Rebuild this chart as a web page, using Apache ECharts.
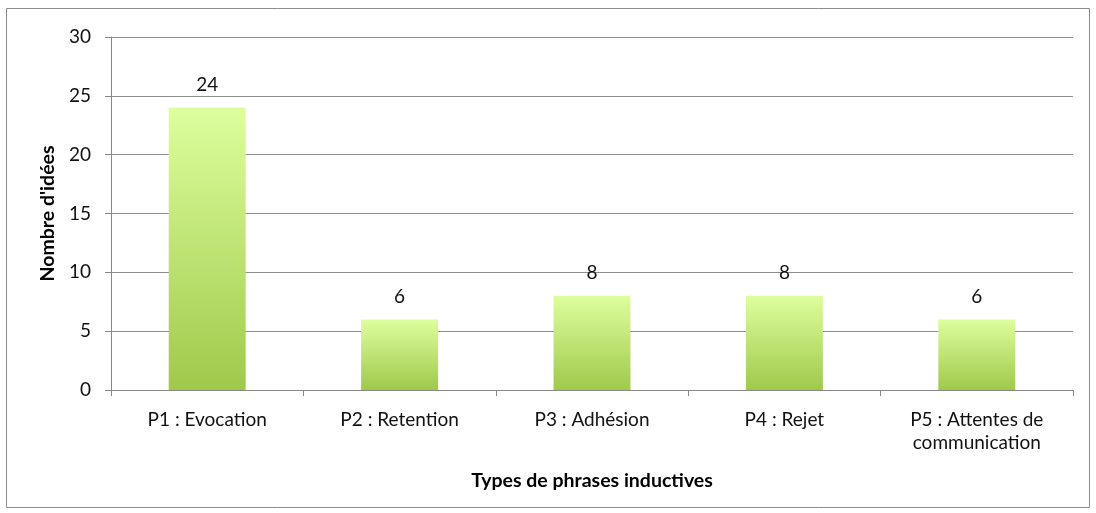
<!DOCTYPE html>
<html><head><meta charset="utf-8">
<script src="https://cdn.jsdelivr.net/npm/echarts@6/dist/echarts.min.js"></script>
<style>html,body{margin:0;padding:0;background:#fff}#c{width:1096px;height:513px}</style>
</head><body><div id="c"></div>
<script>
const categories = ["P1 : Evocation", "P2 : Retention", "P3 : Adhésion", "P4 : Rejet", "P5 : Attentes de\ncommunication"];
const values = [24, 6, 8, 8, 6];
const yTitle = "Nombre d'idées";
const xTitle = "Types de phrases inductives";
const FONT = "Lato, 'Open Sans', sans-serif";
const chart = echarts.init(document.getElementById('c'));
chart.setOption({
  animation: false,
  graphic: [{type:'rect', shape:{x:6.5,y:8.5,width:1083,height:499}, style:{fill:'none', stroke:'#8c8c8c', lineWidth:1}, silent:true}],
  grid: {left:111, right:23, top:37, bottom:123},
  xAxis: {
    type:'category', data: categories,
    name: xTitle, nameLocation:'middle', nameGap:81,
    nameTextStyle:{fontFamily:FONT, fontWeight:'bold', fontSize:19.5, color:'#000'},
    axisLine:{lineStyle:{color:'#888', width:1}},
    axisTick:{show:true, length:6, lineStyle:{color:'#888'}, alignWithLabel:false},
    axisLabel:{fontFamily:FONT, fontSize:19, color:'#111', margin:18, lineHeight:23, interval:0}
  },
  yAxis: {
    type:'value', min:0, max:30, interval:5,
    name: yTitle, nameLocation:'middle', nameGap:50,
    nameTextStyle:{fontFamily:FONT, fontWeight:'bold', fontSize:19.5, color:'#000'},
    axisLine:{show:true, lineStyle:{color:'#888'}},
    axisTick:{show:true, length:6, lineStyle:{color:'#888'}},
    axisLabel:{fontFamily:FONT, fontSize:19, color:'#111', margin:20},
    splitLine:{lineStyle:{color:'#8c8c8c', width:1}}
  },
  series: [{
    type:'bar', data: values, barWidth:'40%',
    itemStyle:{color:new echarts.graphic.LinearGradient(0,0,0,1,[{offset:0,color:'#ddfe9d'},{offset:1,color:'#a0c94b'}])},
    label:{show:true, position:'top', distance:13, fontFamily:FONT, fontSize:19, color:'#111'}
  }]
});
</script></body></html>
